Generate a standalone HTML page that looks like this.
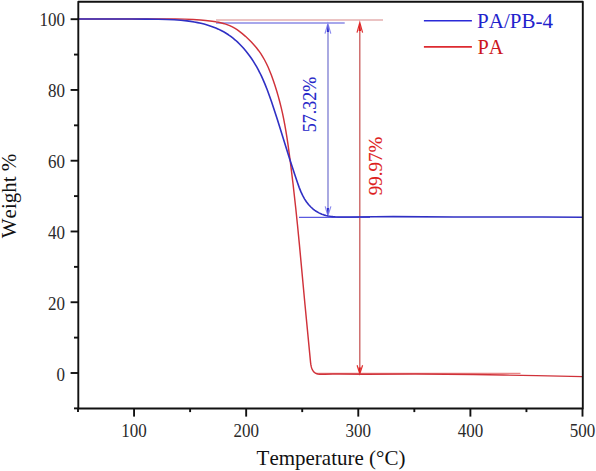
<!DOCTYPE html>
<html><head><meta charset="utf-8"><style>
html,body{margin:0;padding:0;background:#fff;}
svg{display:block;font-kerning:none;}
text{font-family:"Liberation Serif",serif;}
</style></head><body>
<svg width="596" height="471" viewBox="0 0 596 471">
<rect x="0" y="0" width="596" height="471" fill="#fff"/>
<line x1="216" y1="20" x2="383" y2="20" stroke="#d88888" stroke-width="1.1"/>
<line x1="216" y1="23" x2="344.7" y2="23" stroke="#8a8ae6" stroke-width="1.3"/>
<line x1="299" y1="217.4" x2="370" y2="217.4" stroke="#5a5ae0" stroke-width="1.1"/>
<line x1="315" y1="373.3" x2="520.5" y2="373.3" stroke="#e46a6a" stroke-width="1"/>
<line x1="328" y1="25" x2="328" y2="214" stroke="#7c7cd2" stroke-width="1.3"/>
<path d="M325,33.6 L327.9,23.6 L330.8,33.6" stroke="#8a8aee" stroke-width="1.2" fill="none"/>
<path d="M326.8,32 L327.9,24 L329,32Z" fill="#2a2ad0"/>
<path d="M325.2,206.4 L327.9,215.8 L330.9,206.4" stroke="#8a8aee" stroke-width="1.2" fill="none"/>
<path d="M326.8,208 L327.9,215.6 L329,208Z" fill="#2a2ad0"/>
<line x1="359.8" y1="24" x2="359.8" y2="372" stroke="#c85a5a" stroke-width="1.3"/>
<path d="M357,32.6 L359.8,22.6 L362.6,32.6" stroke="#e03030" stroke-width="1.2" fill="none"/>
<path d="M358.6,31 L359.8,23 L361,31Z" fill="#e01818"/>
<path d="M357.1,365.2 L359.8,373.8 L362.6,365.2" stroke="#e03030" stroke-width="1.2" fill="none"/>
<path d="M358.6,367.5 L359.8,373.6 L361,367.5Z" fill="#e01818"/>
<path d="M78.00,19.04L153.29,18.96 175.14,19.03 184.61,19.15 193.03,19.46 200.37,20.01 205.61,20.55 212.15,21.34 215.80,21.84 218.65,22.32 221.48,22.93 224.28,23.68 227.04,24.60 229.73,25.67 232.34,26.90 234.64,28.15 237.06,29.68 239.40,31.33 242.28,33.60 245.47,36.34 248.56,39.21 251.37,42.02 254.05,44.95 256.44,47.77 258.70,50.69 260.82,53.70 262.78,56.81 264.60,59.99 266.39,63.49 268.06,67.05 269.70,70.92 271.42,75.34 273.21,80.29 275.06,85.79 276.71,91.06 278.27,96.37 279.72,101.70 281.13,107.31 282.42,112.95 283.62,118.61 284.76,124.54 285.86,130.76 286.96,137.51 288.05,144.80 290.40,162.29 293.11,184.50 295.73,208.03 297.46,224.78 299.27,243.12 305.02,305.00 310.61,362.83 310.87,364.66 311.23,366.44 311.65,367.92 312.10,369.09 312.64,370.19 313.28,371.20 314.03,372.08 314.91,372.81 316.14,373.48 317.77,373.97 319.56,374.23 321.72,374.33 324.72,374.31 332.98,374.08 339.32,374.03 365.08,374.17 415.36,374.09 446.17,374.26 473.54,374.57 503.28,375.02 536.44,375.64 582.50,376.61" stroke="#d0323a" stroke-width="1.45" fill="none" stroke-linejoin="round"/>
<path d="M77.65,19.04L131.55,19.01 146.13,19.08 158.46,19.21 166.93,19.43 174.13,19.76 180.89,20.25 186.96,20.89 190.70,21.39 194.20,21.95 197.66,22.60 200.89,23.30 204.08,24.08 207.23,24.97 210.14,25.89 213.00,26.90 215.82,28.02 218.41,29.15 221.13,30.47 223.62,31.80 226.06,33.24 228.44,34.78 230.77,36.43 233.04,38.18 235.25,40.02 237.41,41.95 239.50,43.97 241.68,46.22 243.79,48.55 245.83,50.95 247.80,53.43 249.69,55.96 251.51,58.55 253.37,61.37 255.03,64.05 256.72,66.95 258.33,69.88 259.95,73.02 261.49,76.20 263.04,79.60 265.07,84.37 267.13,89.57 269.21,95.19 271.53,101.83 274.42,110.44 277.53,120.05 289.42,158.16 294.82,174.87 297.52,182.86 299.24,187.62 300.96,191.89 302.63,195.46 304.50,198.87 306.38,201.77 308.50,204.49 310.85,207.00 312.18,208.23 313.41,209.27 314.84,210.36 316.16,211.27 318.93,212.88 320.36,213.57 321.84,214.19 323.73,214.86 325.87,215.46 328.05,215.95 330.28,216.32 332.75,216.62 335.26,216.82 338.21,216.96 341.38,217.03 349.80,217.02 374.49,216.71 393.36,216.66 453.90,216.93 542.27,217.07 582.49,217.26" stroke="#3030c4" stroke-width="1.6" fill="none" stroke-linejoin="round"/>
<rect x="78.3" y="1.7" width="504.5" height="406.8" fill="none" stroke="#111" stroke-width="1.9" stroke-linejoin="round"/>
<g stroke="#111" stroke-width="1.9"><line x1="134.06" y1="408.5" x2="134.06" y2="416.6"/><line x1="246.17" y1="408.5" x2="246.17" y2="416.6"/><line x1="358.28" y1="408.5" x2="358.28" y2="416.6"/><line x1="470.39" y1="408.5" x2="470.39" y2="416.6"/><line x1="582.50" y1="408.5" x2="582.50" y2="416.6"/><line x1="78.00" y1="408.5" x2="78.00" y2="412.1"/><line x1="190.11" y1="408.5" x2="190.11" y2="412.1"/><line x1="302.22" y1="408.5" x2="302.22" y2="412.1"/><line x1="414.33" y1="408.5" x2="414.33" y2="412.1"/><line x1="526.44" y1="408.5" x2="526.44" y2="412.1"/><line x1="70.6" y1="373.00" x2="78.8" y2="373.00"/><line x1="70.6" y1="302.24" x2="78.8" y2="302.24"/><line x1="70.6" y1="231.48" x2="78.8" y2="231.48"/><line x1="70.6" y1="160.72" x2="78.8" y2="160.72"/><line x1="70.6" y1="89.96" x2="78.8" y2="89.96"/><line x1="70.6" y1="19.20" x2="78.8" y2="19.20"/><line x1="74" y1="408.38" x2="78.8" y2="408.38"/><line x1="74" y1="337.62" x2="78.8" y2="337.62"/><line x1="74" y1="266.86" x2="78.8" y2="266.86"/><line x1="74" y1="196.10" x2="78.8" y2="196.10"/><line x1="74" y1="125.34" x2="78.8" y2="125.34"/><line x1="74" y1="54.58" x2="78.8" y2="54.58"/></g>
<text transform="translate(134.06,436.70) scale(1,1.075)" font-size="17" fill="#2a2a2a" text-anchor="middle">100</text>
<text transform="translate(246.17,436.70) scale(1,1.075)" font-size="17" fill="#2a2a2a" text-anchor="middle">200</text>
<text transform="translate(358.28,436.70) scale(1,1.075)" font-size="17" fill="#2a2a2a" text-anchor="middle">300</text>
<text transform="translate(470.39,436.70) scale(1,1.075)" font-size="17" fill="#2a2a2a" text-anchor="middle">400</text>
<text transform="translate(582.50,436.70) scale(1,1.075)" font-size="17" fill="#2a2a2a" text-anchor="middle">500</text>
<text transform="translate(64.90,381.00) scale(1,1.075)" font-size="17" fill="#2a2a2a" text-anchor="end">0</text>
<text transform="translate(64.90,310.06) scale(1,1.075)" font-size="17" fill="#2a2a2a" text-anchor="end">20</text>
<text transform="translate(64.90,239.12) scale(1,1.075)" font-size="17" fill="#2a2a2a" text-anchor="end">40</text>
<text transform="translate(64.90,168.18) scale(1,1.075)" font-size="17" fill="#2a2a2a" text-anchor="end">60</text>
<text transform="translate(64.90,97.24) scale(1,1.075)" font-size="17" fill="#2a2a2a" text-anchor="end">80</text>
<text transform="translate(64.90,26.30) scale(1,1.075)" font-size="17" fill="#2a2a2a" text-anchor="end">100</text>
<text transform="translate(331.00,465.20) scale(1,1.030)" font-size="21" fill="#111" text-anchor="middle">Temperature (°C)</text>
<text transform="translate(15.60,196.00) rotate(-90) scale(1,1.040)" font-size="21" fill="#111" text-anchor="middle">Weight %</text>
<text transform="translate(316.30,104.60) rotate(-90) scale(1,1.030)" font-size="18" fill="#2424c8" text-anchor="middle" stroke="#2424c8" stroke-width="0.12">57.32%</text>
<text transform="translate(382.00,166.00) rotate(-90) scale(1,1.040)" font-size="19" fill="#dd1e1e" text-anchor="middle" stroke="#dd1e1e" stroke-width="0.1">99.97%</text>
<text transform="translate(477.10,27.60)" font-size="21" fill="#2222cc">PA/PB-4</text>
<text transform="translate(477.50,53.80) scale(1,1.030)" font-size="20.3" fill="#cc1520">PA</text>
<line x1="423.9" y1="20.7" x2="471.9" y2="20.7" stroke="#2a2ad8" stroke-width="1.6"/>
<line x1="423.9" y1="46.9" x2="471.9" y2="46.9" stroke="#dd2a30" stroke-width="1.6"/>
</svg>
</body></html>
